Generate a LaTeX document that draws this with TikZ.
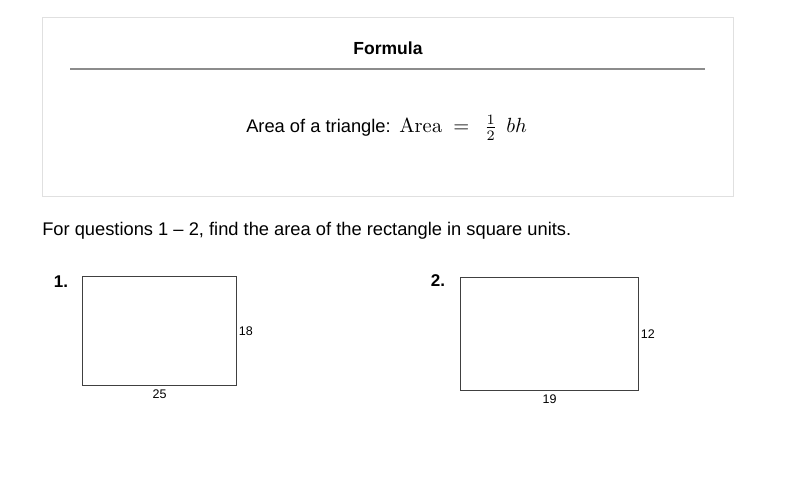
\documentclass[tikz,border=0pt]{standalone}
\usepackage[no-math]{fontspec}
\setmainfont{Liberation Sans}
\usetikzlibrary{positioning}
\begin{document}
\begin{tikzpicture}[x=1pt,y=-1pt,semithick,
    txt/.style={inner sep=0pt,font=\fontsize{18.3}{20}\selectfont},
    num/.style={inner sep=0pt,font=\bfseries\fontsize{17}{20}\selectfont},
    side/.style={inner sep=1.5pt,font=\fontsize{12.5}{14}\selectfont},
    rect/.style={draw=black!75,line width=1.1pt,inner sep=0pt}]
    \useasboundingbox (0,0) rectangle (797,497);
    \draw[black!12,line width=1pt](42,18)rectangle(733,196);
    \node[inner sep=0pt,font=\bfseries\fontsize{17.5}{20}\selectfont](title)at(388,48){Formula};
    \draw[black!45,line width=1.4pt](70,69)--(705,69);
    \node[txt,anchor=base east](lbl)at(391,133){Area of a triangle:};
    \node[inner sep=0pt,anchor=base west](eq)at(399,133){\scalebox{2.05}{$\mathrm{Area}\;=\;\,\frac{1}{2}\;\,bh$}};
    \node[txt,anchor=west](q)at(42,231){For questions 1 -- 2, find the area of the rectangle in square units.};
    % rectangle 1
    \node[num](n1)at(61,282){1.};
    \node[rect,minimum width=154pt,minimum height=109pt,anchor=north west](r1)at(82,276){};
    \node[side,anchor=west](h1)at(r1.east){18};
    \node[side,anchor=north,inner sep=3pt](w1)at(r1.south){25};
    % rectangle 2
    \node[num](n2)at(438,281){2.};
    \node[rect,minimum width=178pt,minimum height=113pt,anchor=north west](r2)at(460,277){};
    \node[side,anchor=west](h2)at(r2.east){12};
    \node[side,anchor=north,inner sep=3pt](w2)at(r2.south){19};
\end{tikzpicture}
\end{document}
